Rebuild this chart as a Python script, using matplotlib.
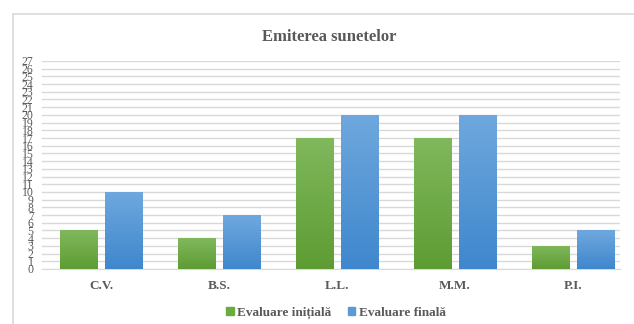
import numpy as np
import matplotlib
matplotlib.use('Agg')
import matplotlib.pyplot as plt
from matplotlib.patches import Rectangle, Patch

categories = ['C.V.', 'B.S.', 'L.L.', 'M.M.', 'P.I.']
initiala = [5, 4, 17, 17, 3]
finala = [10, 7, 20, 20, 5]
series_names = ['Evaluare inițială', 'Evaluare finală']

plt.rcParams['font.family'] = ['Liberation Serif', 'DejaVu Serif']
txt = '#595959'
grid_col = '#D9D9D9'

fig = plt.figure(figsize=(6.34, 3.24), dpi=100)
ax = fig.add_axes([0.0662, 0.1698, 0.9117, 0.642])

# chart frame
fig.patches.append(Rectangle((13 / 634, -0.05), 1.0, 1 - 14 / 324 + 0.05,
                             transform=fig.transFigure, fill=False,
                             edgecolor='#D9D9D9', linewidth=1.2))

x = np.arange(len(categories))
w = 0.314
off = 0.19


def gradient_bars(xs, vals, top, bottom):
    bars = ax.bar(xs, vals, w, color=bottom, zorder=3)
    grad = np.linspace(0, 1, 100).reshape(-1, 1)
    cmap = matplotlib.colors.LinearSegmentedColormap.from_list('g', [bottom, top])
    for b in bars:
        im = ax.imshow(grad, cmap=cmap, origin='lower', aspect='auto',
                       extent=[b.get_x(), b.get_x() + b.get_width(), 0, b.get_height()],
                       zorder=4)
        im.set_clip_path(b)
    return bars


gradient_bars(x - off, initiala, '#80B85C', '#5E9C33')
gradient_bars(x + off, finala, '#6FA8DE', '#3F87CD')

ax.set_xlim(-0.5, 4.4)
ax.set_ylim(0, 27)
ax.set_yticks(range(0, 28))
ax.set_xticks(x)
ax.set_xticklabels(categories, fontsize=9.5, fontweight='bold', color=txt)
ax.tick_params(axis='y', labelsize=8.5, labelcolor=txt, length=0, pad=6)
ax.tick_params(axis='x', length=0, pad=8)
ax.grid(axis='y', color=grid_col, linewidth=1, zorder=0)
for s in ['top', 'right', 'left']:
    ax.spines[s].set_visible(False)
ax.spines['bottom'].set_color(grid_col)

fig.text(0.52, 0.886, 'Emiterea sunetelor', ha='center', va='center',
         fontsize=12, fontweight='bold', color=txt)

handles = [Patch(color='#6AAD3F'), Patch(color='#5B9BD5')]
fig.legend(handles, series_names, loc='center', bbox_to_anchor=(0.53, 0.034),
           ncol=2, frameon=False, handlelength=0.6, handleheight=0.6,
           handletextpad=0.3, columnspacing=1.2,
           prop={'size': 9.5, 'weight': 'bold'}, labelcolor=txt)

fig.savefig('out.png', dpi=100)
